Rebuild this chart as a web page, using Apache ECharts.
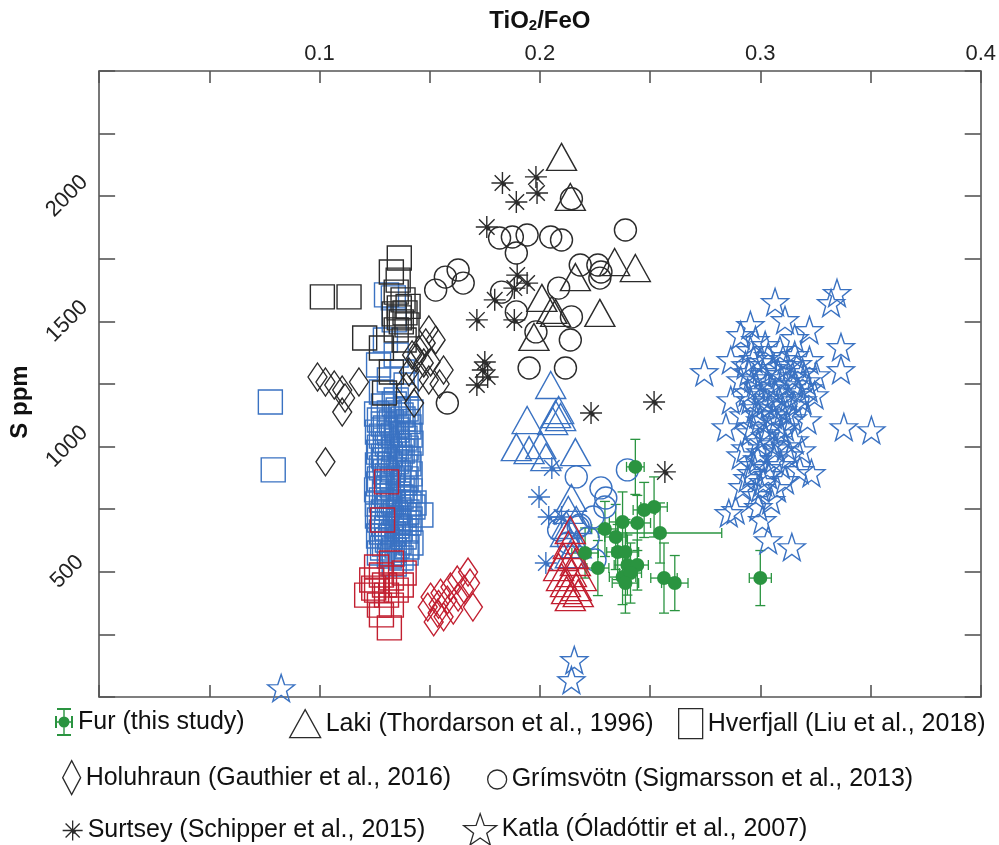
<!DOCTYPE html>
<html>
<head>
<meta charset="utf-8">
<script src="https://cdn.jsdelivr.net/npm/echarts@6/dist/echarts.min.js"></script>
<style>
html,body{margin:0;padding:0;background:#fff;}
#chart{width:999px;height:845px;}
</style>
</head>
<body>
<div id="chart"></div>
<script>
// ---------- tick labels ----------
const xTickLabels = ['0.1', '0.2', '0.3', '0.4'];
const yTickLabels = ['500', '1000', '1500', '2000'];

// ---------- Fur (this study): [TiO2/FeO, S ppm] ----------
const furPoints = [
  [0.2433, 919], [0.2518, 759], [0.2473, 747], [0.2295, 671], [0.2344, 639],
  [0.2375, 699], [0.2442, 695], [0.2545, 655], [0.2205, 575], [0.2353, 579],
  [0.2388, 579], [0.2263, 515], [0.2397, 527], [0.2442, 527], [0.2375, 479],
  [0.2411, 495], [0.2388, 455], [0.2563, 475], [0.2612, 455], [0.3000, 475]
];
const furXErr = [0.004, 0.006, 0.005, 0.006, 0.005, 0.006, 0.006, 0.028, 0.006, 0.005,
                 0.006, 0.005, 0.006, 0.005, 0.006, 0.005, 0.006, 0.006, 0.006, 0.005];
const furYErr = [110, 120, 110, 110, 130, 120, 110, 120, 100, 110,
                 130, 110, 120, 100, 110, 120, 120, 140, 110, 110];

// ---------- Laki ----------
const lakiBlack = [
  [0.2098, 2157], [0.2138, 1997], [0.2339, 1737], [0.2433, 1713], [0.2161, 1677],
  [0.2009, 1594], [0.2054, 1546], [0.2071, 1534], [0.2272, 1534], [0.1973, 1438]
];
const lakiBlue = [
  [0.2049, 1246], [0.2085, 1146], [0.2071, 1130], [0.2094, 1118], [0.2058, 1102],
  [0.1942, 1106], [0.1893, 998], [0.1951, 986], [0.2004, 1006], [0.2161, 978],
  [0.2027, 958], [0.2143, 795], [0.2129, 747], [0.2165, 707], [0.2120, 687],
  [0.2116, 655], [0.2165, 610], [0.2138, 570]
];
const lakiRed = [
  [0.2138, 667], [0.2129, 607], [0.2107, 559], [0.2161, 539], [0.2085, 519],
  [0.2143, 495], [0.2188, 479], [0.2116, 455], [0.2165, 439], [0.2138, 399],
  [0.2152, 567], [0.2121, 427], [0.2098, 479], [0.2174, 415]
];

// ---------- Hverfjall ----------
const hverBlack = [
  [0.1362, 1753], [0.1326, 1697], [0.1357, 1665], [0.1348, 1617], [0.1379, 1586],
  [0.1362, 1554], [0.1388, 1534], [0.1371, 1498], [0.1348, 1466], [0.1384, 1426],
  [0.1205, 1434], [0.1281, 1394], [0.1326, 1298], [0.1295, 1214], [0.1013, 1598],
  [0.1134, 1598], [0.1362, 1514], [0.1397, 1486], [0.1402, 1560], [0.1339, 1530]
];
const hverBlue = [
  [0.0777, 1178], [0.0790, 907], [0.1335, 1594], [0.1460, 727], [0.1429, 775],
  [0.1304, 1606], [0.1339, 1506], [0.1299, 1426], [0.1348, 1366], [0.1268, 1326],
  [0.1375, 1298], [0.1317, 1266], [0.1393, 1246], [0.1281, 1218], [0.1348, 1186],
  [0.1290, 1162], [0.1339, 1170], [0.1393, 1150], [0.1317, 1134], [0.1370, 1126],
  [0.1415, 1138], [0.1272, 1106], [0.1326, 1098], [0.1379, 1110], [0.1299, 1074],
  [0.1352, 1066], [0.1406, 1078], [0.1281, 1042], [0.1335, 1046], [0.1388, 1034],
  [0.1308, 1010], [0.1361, 1002], [0.1415, 1014], [0.1268, 978], [0.1322, 970],
  [0.1375, 982], [0.1295, 947], [0.1348, 939], [0.1402, 951], [0.1281, 915],
  [0.1335, 907], [0.1388, 919], [0.1308, 883], [0.1361, 875], [0.1268, 851],
  [0.1330, 843], [0.1384, 855], [0.1295, 819], [0.1357, 811], [0.1411, 823],
  [0.1281, 787], [0.1335, 779], [0.1388, 791], [0.1308, 755], [0.1361, 747],
  [0.1424, 759], [0.1263, 723], [0.1326, 715], [0.1384, 727], [0.1290, 691],
  [0.1352, 683], [0.1406, 695], [0.1281, 659], [0.1335, 651], [0.1393, 663],
  [0.1308, 627], [0.1361, 619], [0.1286, 595], [0.1339, 587], [0.1397, 599],
  [0.1317, 563], [0.1370, 555], [0.1339, 531],
  [0.1259, 1130], [0.1357, 1146], [0.1402, 1100], [0.1290, 1090], [0.1348, 1082],
  [0.1263, 1058], [0.1317, 1054], [0.1379, 1050], [0.1411, 1046], [0.1299, 1026],
  [0.1352, 1022], [0.1272, 998], [0.1339, 990], [0.1393, 994], [0.1290, 962],
  [0.1366, 958], [0.1317, 931], [0.1263, 927], [0.1406, 931], [0.1299, 899],
  [0.1357, 895], [0.1411, 891], [0.1272, 871], [0.1330, 867], [0.1393, 871],
  [0.1313, 835], [0.1259, 827], [0.1375, 831], [0.1304, 803], [0.1370, 799],
  [0.1263, 771], [0.1317, 767], [0.1406, 771], [0.1290, 739], [0.1344, 735],
  [0.1397, 739], [0.1272, 707], [0.1357, 703], [0.1411, 711], [0.1304, 675],
  [0.1366, 671], [0.1268, 643], [0.1322, 639], [0.1384, 639], [0.1295, 611],
  [0.1352, 603], [0.1415, 615], [0.1272, 575], [0.1330, 571], [0.1393, 575]
];
const hverRed = [
  [0.1304, 859], [0.1286, 707], [0.1237, 467], [0.1281, 487], [0.1326, 475],
  [0.1259, 427], [0.1304, 407], [0.1348, 427], [0.1214, 407], [0.1272, 367],
  [0.1326, 367], [0.1281, 328], [0.1317, 276], [0.1246, 435], [0.1371, 447],
  [0.1295, 447], [0.1259, 519], [0.1326, 535], [0.1384, 495]
];

// ---------- Holuhraun ----------
const holuBlack = [
  [0.0991, 1278], [0.1027, 1258], [0.1067, 1246], [0.1103, 1226], [0.1179, 1258],
  [0.1116, 1194], [0.1103, 1138], [0.1027, 939], [0.1496, 1466], [0.1482, 1414],
  [0.1451, 1386], [0.1438, 1354], [0.1473, 1334], [0.1504, 1338], [0.1563, 1306],
  [0.1406, 1298], [0.1451, 1278], [0.1496, 1266], [0.1393, 1238], [0.1429, 1174],
  [0.1527, 1426], [0.1420, 1366], [0.1545, 1250]
];
const holuRed = [
  [0.1674, 499], [0.1683, 455], [0.1696, 359], [0.1625, 467], [0.1594, 439],
  [0.1549, 415], [0.1504, 399], [0.1491, 359], [0.1536, 335], [0.1518, 300],
  [0.1580, 387], [0.1629, 399], [0.1607, 347], [0.1563, 320], [0.1656, 430],
  [0.1540, 370]
];

// ---------- Grímsvötn ----------
const grimBlack = [
  [0.2388, 1865], [0.1817, 1833], [0.1875, 1837], [0.1942, 1845], [0.2049, 1837],
  [0.2098, 1825], [0.1893, 1773], [0.1629, 1705], [0.1571, 1677], [0.1527, 1625],
  [0.1652, 1653], [0.2183, 1725], [0.2263, 1725], [0.2277, 1697], [0.2272, 1673],
  [0.2085, 1633], [0.1826, 1617], [0.1893, 1538], [0.2143, 1518], [0.1982, 1458],
  [0.2138, 1426], [0.1951, 1314], [0.2116, 1314], [0.1580, 1174], [0.2143, 1990]
];
const grimBlue = [
  [0.2397, 907], [0.2165, 879], [0.2277, 835], [0.2299, 795], [0.2295, 759],
  [0.2241, 719], [0.2183, 687], [0.2129, 615], [0.2250, 547], [0.2174, 679],
  [0.2085, 667], [0.2219, 635]
];

// ---------- Surtsey ----------
const surtBlack = [
  [0.1830, 2053], [0.1982, 2077], [0.1987, 2013], [0.1893, 1977], [0.1759, 1877],
  [0.1897, 1685], [0.1942, 1653], [0.1884, 1633], [0.1795, 1586], [0.1714, 1506],
  [0.1884, 1506], [0.1750, 1338], [0.1741, 1306], [0.1763, 1278], [0.1714, 1246],
  [0.2232, 1134], [0.2518, 1178], [0.2567, 899]
];
const surtBlue = [
  [0.2054, 915], [0.1996, 799], [0.2040, 719], [0.2098, 719], [0.2027, 535]
];

// ---------- Katla ----------
const katlaBlue = [
  [0.2746, 1298], [0.3067, 1578], [0.3348, 1614], [0.3321, 1574], [0.3366, 1398],
  [0.3366, 1306], [0.3504, 1066], [0.3379, 1078], [0.2844, 1078], [0.3214, 1106],
  [0.3188, 986], [0.3232, 895], [0.2920, 839], [0.3112, 867], [0.2857, 735],
  [0.3009, 707], [0.3036, 627], [0.3143, 599], [0.2991, 759], [0.2888, 747],
  [0.2156, 148], [0.2143, 68], [0.0826, 36],
  [0.2955, 1486], [0.3112, 1506], [0.2978, 1426], [0.3156, 1434],
  [0.2955, 1386], [0.3022, 1406], [0.3089, 1386], [0.3156, 1366], [0.3223, 1346],
  [0.2933, 1326], [0.3000, 1338], [0.3058, 1314], [0.3121, 1326], [0.3192, 1298],
  [0.3254, 1286], [0.2911, 1266], [0.2969, 1274], [0.3031, 1258], [0.3094, 1274],
  [0.3156, 1250], [0.3219, 1234], [0.2942, 1218], [0.3004, 1206], [0.3067, 1218],
  [0.3129, 1194], [0.3192, 1186], [0.2978, 1154], [0.3040, 1166], [0.3103, 1146],
  [0.2924, 1126], [0.3000, 1106], [0.3076, 1098], [0.3147, 1114], [0.2955, 1058],
  [0.3022, 1042], [0.3094, 1054], [0.3156, 1026], [0.2933, 994], [0.3000, 978],
  [0.3067, 994], [0.3134, 966], [0.2969, 927], [0.3031, 915], [0.3094, 927],
  [0.2942, 875], [0.3013, 859], [0.3076, 835], [0.2978, 807], [0.3049, 787],
  [0.2911, 966], [0.3246, 1206], [0.2866, 1186], [0.2866, 1346], [0.3223, 1466],
  [0.2911, 1446], [0.3179, 907],
  [0.2969, 1350], [0.3036, 1362], [0.3103, 1350], [0.3170, 1330], [0.2946, 1298],
  [0.3013, 1290], [0.3080, 1298], [0.3147, 1282], [0.3210, 1262], [0.2982, 1242],
  [0.3049, 1234], [0.3116, 1246], [0.3174, 1218], [0.2955, 1186], [0.3022, 1178],
  [0.3085, 1186], [0.3152, 1166], [0.2991, 1130], [0.3058, 1126], [0.3121, 1134],
  [0.2964, 1082], [0.3040, 1074], [0.3112, 1078], [0.2991, 1018], [0.3054, 1010],
  [0.3116, 1002], [0.2987, 950], [0.3063, 950], [0.2960, 895], [0.3036, 887],
  [0.3000, 835]
];

// ---------- styling ----------
const BLACK = '#2b2b2b', BLUE = '#3a72c2', RED = '#c21f30', GREEN = '#2a9440';
const STAR = 'path://M10,0 L12.35,6.76 L19.51,6.91 L13.8,11.24 L15.88,18.09 L10,14 L4.12,18.09 L6.2,11.24 L0.49,6.91 L7.65,6.76 Z';
const ASTER = 'path://M10,0 L10,20 M0,10 L20,10 M2.93,2.93 L17.07,17.07 M17.07,2.93 L2.93,17.07 M11.3,10 A1.3,1.3 0 1,1 11.29,10 Z';
const FURICON = 'path://M2,0 H16 V2 H2 Z M2,26 H16 V28 H2 Z M8.3,0 H9.7 V28 H8.3 Z M0,8 H2 V20 H0 Z M16,8 H18 V20 H16 Z M0,13.3 H18 V14.7 H0 Z M9,8.5 A5.5,5.5 0 1,1 8.99,8.5 Z';

const shapes = {
  laki: {symbol: 'triangle', size: [30, 27]},
  hver: {symbol: 'rect', size: 24},
  holu: {symbol: 'diamond', size: [19, 28]},
  grim: {symbol: 'circle', size: 22},
  surt: {symbol: ASTER, size: 22},
  katla: {symbol: STAR, size: 27}
};

function hollow(name, data, shape, color, fillDot) {
  return {
    name: name, type: 'scatter', data: data,
    symbol: shape.symbol, symbolSize: shape.size,
    itemStyle: {color: fillDot ? color : 'rgba(0,0,0,0)', borderColor: color, borderWidth: 1.4, opacity: 1},
    emphasis: {disabled: true},
    animation: false
  };
}

const furErrData = furPoints.map((p, i) => [p[0], p[1], furXErr[i], furYErr[i]]);

const series = [
  hollow('Katla blue', katlaBlue, shapes.katla, BLUE),
  hollow('Hverfjall blue', hverBlue, shapes.hver, BLUE),
  hollow('Laki blue', lakiBlue, shapes.laki, BLUE),
  hollow('Grímsvötn blue', grimBlue, shapes.grim, BLUE),
  hollow('Surtsey blue', surtBlue, shapes.surt, BLUE, false),
  hollow('Laki (Thordarson et al., 1996)', lakiBlack, shapes.laki, BLACK),
  hollow('Hverfjall (Liu et al., 2018)', hverBlack, shapes.hver, BLACK),
  hollow('Holuhraun (Gauthier et al., 2016)', holuBlack, shapes.holu, BLACK),
  hollow('Grímsvötn (Sigmarsson et al., 2013)', grimBlack, shapes.grim, BLACK),
  hollow('Surtsey (Schipper et al., 2015)', surtBlack, shapes.surt, BLACK, true),
  hollow('Katla (Óladóttir et al., 2007)', [], shapes.katla, BLACK),
  hollow('Hverfjall red', hverRed, shapes.hver, RED),
  hollow('Holuhraun red', holuRed, shapes.holu, RED),
  hollow('Laki red', lakiRed, shapes.laki, RED),
  {
    name: 'Fur errors', type: 'custom', data: furErrData, animation: false,
    renderItem: function (params, api) {
      const x = api.value(0), y = api.value(1), ex = api.value(2), ey = api.value(3);
      const c = api.coord([x, y]);
      const top = api.coord([x, y + ey]);
      const bot = api.coord([x, y - ey]);
      const lft = api.coord([x - ex, y]);
      const rgt = api.coord([x + ex, y]);
      const st = {stroke: GREEN, lineWidth: 1.3};
      const cap = 5;
      return {
        type: 'group',
        children: [
          {type: 'line', shape: {x1: c[0], y1: top[1], x2: c[0], y2: bot[1]}, style: st},
          {type: 'line', shape: {x1: c[0] - cap, y1: top[1], x2: c[0] + cap, y2: top[1]}, style: st},
          {type: 'line', shape: {x1: c[0] - cap, y1: bot[1], x2: c[0] + cap, y2: bot[1]}, style: st},
          {type: 'line', shape: {x1: lft[0], y1: c[1], x2: rgt[0], y2: c[1]}, style: st},
          {type: 'line', shape: {x1: lft[0], y1: c[1] - cap, x2: lft[0], y2: c[1] + cap}, style: st},
          {type: 'line', shape: {x1: rgt[0], y1: c[1] - cap, x2: rgt[0], y2: c[1] + cap}, style: st}
        ]
      };
    }
  },
  {
    name: 'Fur (this study)', type: 'scatter', data: furPoints, animation: false,
    symbol: 'circle', symbolSize: 14,
    itemStyle: {color: GREEN, opacity: 1},
    emphasis: {disabled: true}
  }
];

const legendFont = {fontFamily: 'Liberation Sans, Arial, sans-serif', fontSize: 25, color: '#111'};
const hollowLegendStyle = {color: 'rgba(0,0,0,0)', borderColor: BLACK, borderWidth: 1.3};
function leg(name, icon, left, top, w, h, style) {
  return {
    show: true, selectedMode: false, left: left, top: top, padding: 0,
    itemWidth: w, itemHeight: h, textStyle: legendFont,
    data: [{name: name, icon: icon, itemStyle: style}]
  };
}

const axisLineStyle = {color: '#555', width: 1.6};
const tickFont = {fontFamily: 'Liberation Sans, Arial, sans-serif', fontSize: 22, color: '#222'};

const option = {
  backgroundColor: '#fff',
  animation: false,
  grid: {left: 93, top: 71, width: 896, height: 626, containLabel: false},
  xAxis: [
    {
      type: 'value', position: 'top', min: 0, max: 0.4, interval: 0.05,
      axisLine: {show: true, onZero: false, lineStyle: axisLineStyle},
      axisTick: {show: true, inside: true, length: 12, lineStyle: axisLineStyle},
      splitLine: {show: false},
      axisLabel: Object.assign({
        margin: 6,
        formatter: function (v) {
          const s = (Math.round(v * 100) / 100).toString();
          return xTickLabels.indexOf(s) >= 0 ? s : '';
        }
      }, tickFont),
      name: 'TiO{sub|2}/FeO', nameLocation: 'middle', nameGap: 38,
      nameTextStyle: {
        fontFamily: 'Liberation Sans, Arial, sans-serif', fontSize: 24, fontWeight: 'bold', color: '#111',
        rich: {sub: {fontFamily: 'Liberation Sans, Arial, sans-serif', fontSize: 15, fontWeight: 'bold', color: '#111', verticalAlign: 'bottom', padding: [8, 0, 0, 0]}}
      }
    },
    {
      type: 'value', position: 'bottom', min: 0, max: 0.4, interval: 0.05,
      axisLine: {show: true, onZero: false, lineStyle: axisLineStyle},
      axisTick: {show: true, inside: true, length: 12, lineStyle: axisLineStyle},
      axisLabel: {show: false}, splitLine: {show: false}
    }
  ],
  yAxis: [
    {
      type: 'value', position: 'left', min: 0, max: 2500, interval: 250,
      axisLine: {show: true, onZero: false, lineStyle: axisLineStyle},
      axisTick: {show: true, inside: true, length: 16, lineStyle: axisLineStyle},
      splitLine: {show: false},
      axisLabel: Object.assign({
        rotate: 45, align: 'center', verticalAlign: 'middle', margin: 32,
        formatter: function (v) {
          const s = String(Math.round(v));
          return yTickLabels.indexOf(s) >= 0 ? s : '';
        }
      }, tickFont),
      name: 'S ppm', nameLocation: 'middle', nameGap: 52,
      nameTextStyle: {fontFamily: 'Liberation Sans, Arial, sans-serif', fontSize: 24, fontWeight: 'bold', color: '#111', padding: [0, 36, 0, 0]}
    },
    {
      type: 'value', position: 'right', min: 0, max: 2500, interval: 250,
      axisLine: {show: true, onZero: false, lineStyle: axisLineStyle},
      axisTick: {show: true, inside: true, length: 16, lineStyle: axisLineStyle},
      axisLabel: {show: false}, splitLine: {show: false}
    }
  ],
  legend: [
    leg('Fur (this study)', FURICON, 55, 708, 18, 29, {color: GREEN, borderWidth: 0}),
    leg('Laki (Thordarson et al., 1996)', 'triangle', 289, 709, 31, 28, hollowLegendStyle),
    leg('Hverfjall (Liu et al., 2018)', 'rect', 678, 708, 24, 30, hollowLegendStyle),
    leg('Holuhraun (Gauthier et al., 2016)', 'diamond', 62, 760, 18, 34, hollowLegendStyle),
    leg('Grímsvötn (Sigmarsson et al., 2013)', 'circle', 487, 767, 19, 20, hollowLegendStyle),
    leg('Surtsey (Schipper et al., 2015)', ASTER, 62, 818, 20, 22, {color: BLACK, borderColor: BLACK, borderWidth: 1.3}),
    leg('Katla (Óladóttir et al., 2007)', STAR, 463, 813, 33, 32, hollowLegendStyle)
  ],
  series: series
};

const chart = echarts.init(document.getElementById('chart'), null, {renderer: 'canvas'});
chart.setOption(option);
</script>
</body>
</html>
